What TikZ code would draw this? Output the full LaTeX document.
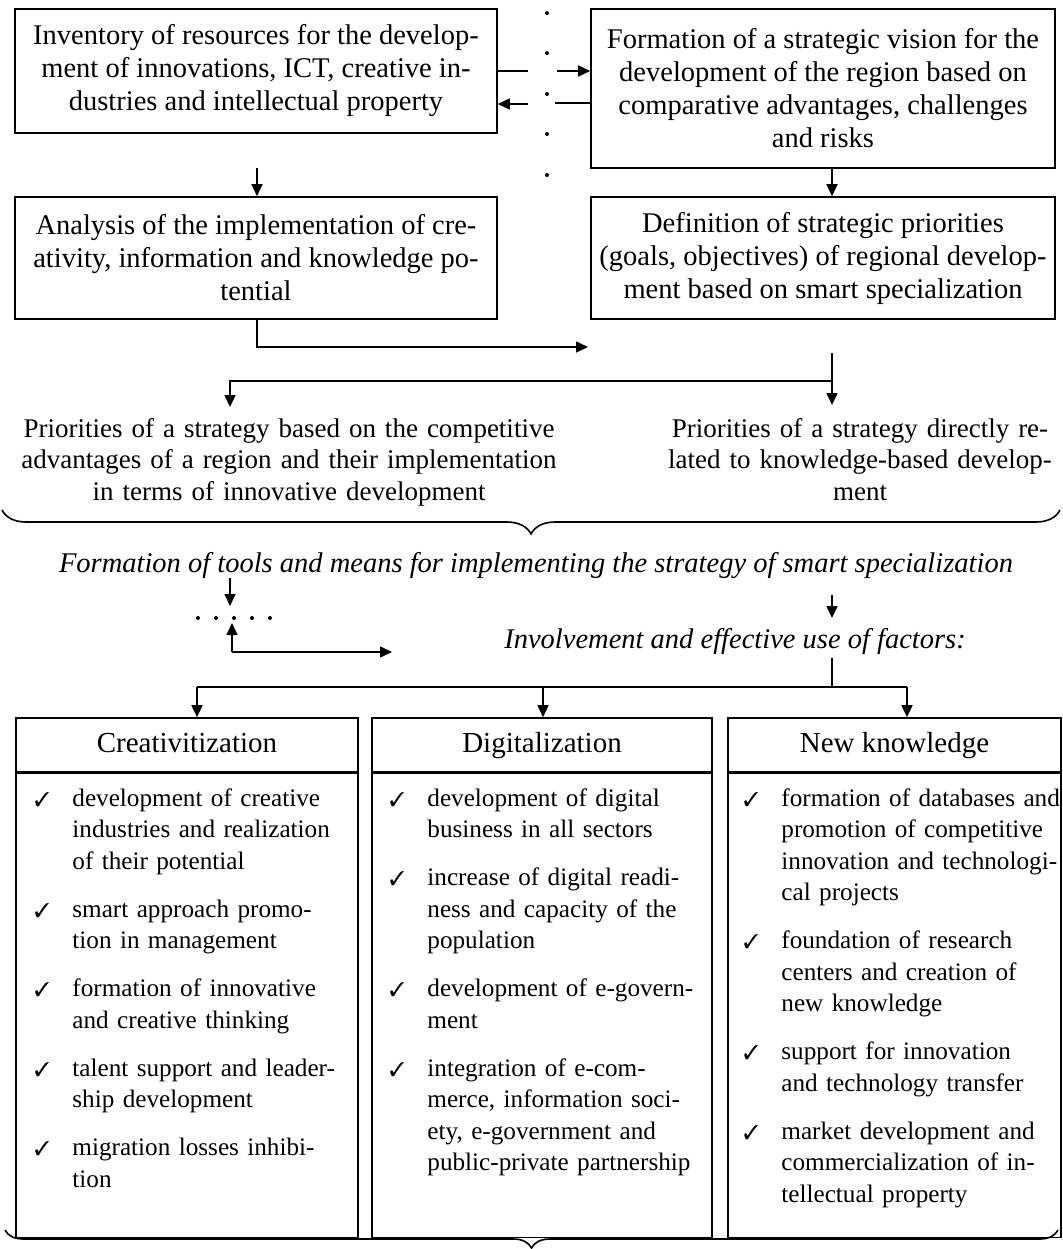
\documentclass[tikz,border=0pt]{standalone}
\usepackage{fontspec}
\setmainfont{Liberation Serif}
\usepackage{pifont}
\usetikzlibrary{positioning,arrows.meta,decorations.pathreplacing}

\tikzset{
  ln/.style={line width=0.8pt},
  arr/.style={line width=0.8pt,-{Triangle[length=6pt,width=5.5pt]}},
  box/.style={draw,line width=0.8pt,align=center,inner sep=0pt,
    font=\fontsize{14.25}{16.5}\selectfont},
  prio/.style={align=center,text width=290pt,inner sep=0pt,
    font=\fontsize{13.5}{15.75}\selectfont},
  note/.style={inner sep=0pt,font=\fontsize{14.25}{16.5}\selectfont\itshape},
  head/.style={draw,line width=0.8pt,minimum height=27pt,inner sep=0pt,
    text height=10pt,text depth=3pt,font=\fontsize{14.5}{16.5}\selectfont},
  body/.style={draw,line width=0.8pt,minimum height=232pt,inner sep=0pt},
  itm/.style={align=left,text width=150pt,inner sep=0pt,
    font=\fontsize{12.6}{15.75}\selectfont},
  chk/.style={inner sep=0pt,font=\fontsize{10}{12}\selectfont},
  dot/.style={circle,fill,inner sep=0pt,minimum size=2pt},
}

% one ticked item: name, x, y of first baseline, text
\newcommand{\chkitem}[4]{%
  \node[itm,anchor=base west] (#1) at (#2,#3) {#4};
  \node[chk,anchor=base east] (#1c) at ([xshift=-11pt]#1.base west) {\ding{51}};}

\begin{document}
\begin{tikzpicture}[x=0.5pt,y=-0.5pt]
  \useasboundingbox (0,0) rectangle (1062,1249);

  % top blocks
  \node[box,minimum width=241pt,minimum height=62pt] (inv) at (256,71)
    {Inventory of resources for the develop-\\ment of innovations, ICT, creative in-\\dustries and intellectual property};
  \node[box,minimum width=232pt,minimum height=79.5pt] (vis) at (823,88.5)
    {Formation of a strategic vision for the\\development of the region based on\\comparative advantages, challenges\\and risks};
  \node[box,minimum width=241pt,minimum height=61pt] (ana) at (256,258)
    {Analysis of the implementation of cre-\\ativity, information and knowledge po-\\tential};
  \node[box,minimum width=232pt,minimum height=61pt] (def) at (823,258)
    {Definition of strategic priorities\\(goals, objectives) of regional develop-\\ment based on smart specialization};

  \foreach \y [count=\i] in {13,53,94,134,175}
    \node[dot] (vd\i) at (547,\y) {};

  \coordinate (ra1) at (528,71);
  \coordinate (ra2) at (557,71);
  \coordinate (la1) at (555,103);
  \coordinate (la2) at (528,104);
  \draw[ln] (inv.east) -- (ra1);
  \draw[arr] (ra2) -- (vis.west |- ra2);
  \draw[ln] (vis.west |- la1) -- (la1);
  \draw[arr] (la2) -- (inv.east |- la2);

  \coordinate (d1) at (257,168);
  \draw[arr] (d1) -- (d1 |- ana.north);
  \draw[arr] ([xshift=4.5pt]vis.south) -- ([xshift=4.5pt]def.north);

  \coordinate (b1) at (588,347);
  \draw[arr] ([xshift=0.5pt]ana.south) |- (b1);

  % priorities
  \node[prio,anchor=base] (prl) at (289,437)
    {Priorities of a strategy based on the competitive\\advantages of a region and their implementation\\in terms of innovative development};
  \node[prio,anchor=base] (prr) at (860,437)
    {Priorities of a strategy directly re-\\lated to knowledge-based develop-\\ment};
  \coordinate (s1) at (832,353);
  \coordinate (s2) at (832,381);
  \coordinate (t1) at (832,405);
  \coordinate (t2) at (230,407);
  \draw[arr] (s1) -- (t1);
  \draw[arr] (s2) -| (t2);

  \draw[ln,decorate,decoration={brace,mirror,amplitude=12pt}] (2,510) -- (1060,510);

  % tools and factors
  \node[note,anchor=base] (tools) at (536,572)
    {Formation of tools and means for implementing the strategy of smart specialization};
  \coordinate (ta) at (230,578);
  \coordinate (tb) at (230,606);
  \draw[arr] (ta) -- (tb);
  \foreach \x [count=\i] in {198,216,234,252,270}
    \node[dot] (hd\i) at (\x,618) {};
  \coordinate (ua) at (232,652);
  \coordinate (ub) at (232,623);
  \coordinate (uc) at (392,652);
  \draw[arr] (ua) -- (ub);
  \draw[arr] (ua) -- (uc);

  \node[note,anchor=base] (fac) at (735,648) {Involvement and effective use of factors:};
  \coordinate (fa) at (832,595);
  \coordinate (fb) at (832,618);
  \draw[arr] (fa) -- (fb);

  % factor columns
  \node[head,minimum width=171pt] (crh) at (187,745) {Creativitization};
  \node[body,minimum width=171pt,below=0pt of crh] (crb) {};
  \node[head,minimum width=170pt] (dgh) at (542,745) {Digitalization};
  \node[body,minimum width=170pt,below=0pt of dgh] (dgb) {};
  \node[head,minimum width=166.5pt] (nkh) at (894.5,745) {New knowledge};
  \node[body,minimum width=166.5pt,below=0pt of nkh] (nkb) {};

  \coordinate (fc) at (832,658);
  \coordinate (fd) at (832,687);
  \coordinate (fl) at (197,687);
  \coordinate (fm) at (543,687);
  \coordinate (fr) at (907,687);
  \draw[ln] (fc) -- (fd);
  \draw[ln] (fl) -- (fr);
  \draw[arr] (fl) -- (fl |- crh.north);
  \draw[arr] (fm) -- (fm |- dgh.north);
  \draw[arr] (fr) -- (fr |- nkh.north);

  \chkitem{cr1}{72}{806}{development of creative\\industries and realization\\of their potential}
  \chkitem{cr2}{72}{917}{smart approach promo-\\tion in management}
  \chkitem{cr3}{72}{996.5}{formation of innovative\\and creative thinking}
  \chkitem{cr4}{72}{1076}{talent support and leader-\\ship development}
  \chkitem{cr5}{72}{1155.5}{migration losses inhibi-\\tion}

  \chkitem{dg1}{427}{806}{development of digital\\business in all sectors}
  \chkitem{dg2}{427}{885.5}{increase of digital readi-\\ness and capacity of the\\population}
  \chkitem{dg3}{427}{996.5}{development of e-govern-\\ment}
  \chkitem{dg4}{427}{1076}{integration of e-com-\\merce, information soci-\\ety, e-government and\\public-private partnership}

  \chkitem{nk1}{781}{806}{formation of databases and\\promotion of competitive\\innovation and technologi-\\cal projects}
  \chkitem{nk2}{781}{948.5}{foundation of research\\centers and creation of\\new knowledge}
  \chkitem{nk3}{781}{1059.5}{support for innovation\\and technology transfer}
  \chkitem{nk4}{781}{1139}{market development and\\commercialization of in-\\tellectual property}

  \draw[ln,decorate,decoration={brace,mirror,amplitude=9pt}] (5,1230) -- (1058,1230);
\end{tikzpicture}
\end{document}
